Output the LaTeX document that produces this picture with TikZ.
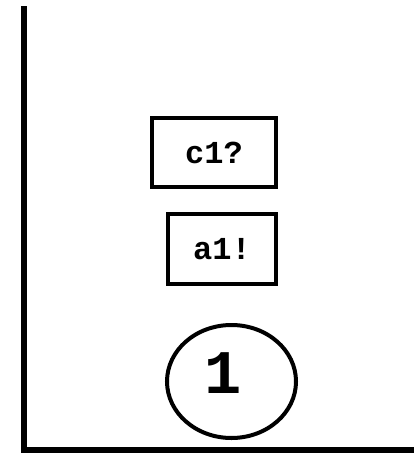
\documentclass[tikz,border=0pt]{standalone}
\usepackage{fontspec}
\setmonofont{Liberation Mono}
\usetikzlibrary{shapes.geometric}
\tikzset{
  frame/.style    = {line width=6pt},
  msg-box/.style  = {rectangle, draw, line width=4pt, inner sep=0pt,
                     font=\ttfamily\bfseries\fontsize{32}{32}\selectfont},
  counter/.style  = {ellipse, draw, line width=4pt, inner sep=0pt},
  count-text/.style = {font=\ttfamily\bfseries\fontsize{62}{62}\selectfont,
                     inner sep=0pt, xshift=-8.5pt, yshift=8pt},
}

\begin{document}
\begin{tikzpicture}[x=1pt, y=-1pt]
  \useasboundingbox (0,0) rectangle (414,453);
  % axis lines on the left and bottom
  \draw [frame] (24,6) -- (24,450) -- (414,450);
  \node [msg-box, minimum width=124pt, minimum height=69pt] (recv) at (214,152.5) {c1?};
  \node [msg-box, minimum width=108pt, minimum height=70pt] (send) at (222,249) {a1!};
  \node [counter, minimum width=129pt, minimum height=113pt,
         label={[count-text]center:1}] (count) at (231.5,381.5) {};
\end{tikzpicture}
\end{document}
